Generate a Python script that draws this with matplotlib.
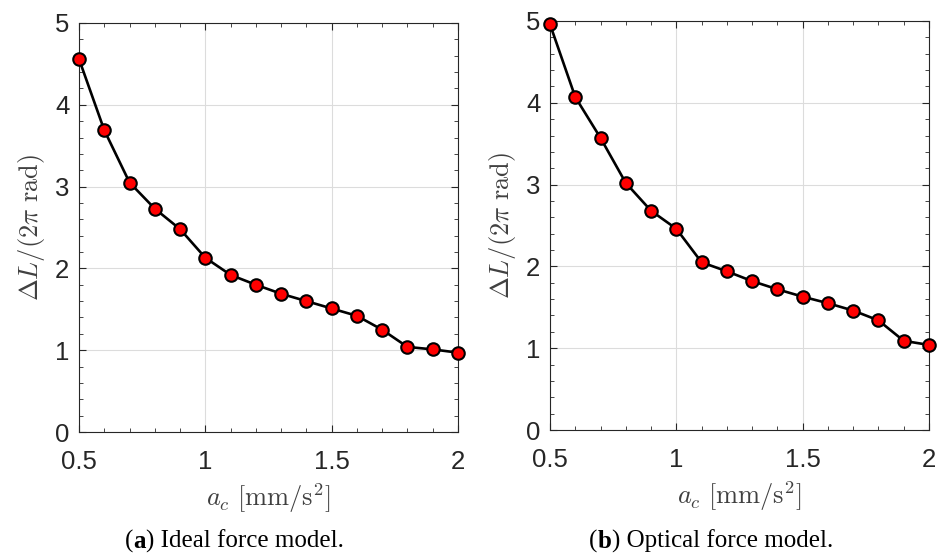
import numpy as np
import matplotlib.pyplot as plt
from matplotlib.ticker import MultipleLocator

plt.rcParams['mathtext.fontset'] = 'cm'

accel = [0.5, 0.6, 0.7, 0.8, 0.9, 1.0, 1.1, 1.2, 1.3, 1.4, 1.5, 1.6, 1.7, 1.8, 1.9, 2.0]
ideal = [4.56, 3.69, 3.05, 2.73, 2.48, 2.13, 1.92, 1.80, 1.69, 1.60, 1.51, 1.42, 1.25, 1.04, 1.01, 0.97]
optical = [4.96, 4.07, 3.57, 3.02, 2.68, 2.46, 2.05, 1.94, 1.82, 1.72, 1.63, 1.55, 1.46, 1.34, 1.09, 1.04]
captions = [("a", "Ideal force model."), ("b", "Optical force model.")]

fig = plt.figure(figsize=(9.38, 5.59), dpi=100)
W, H = 938, 559
boxes = [(79, 23, 458, 432), (550, 21, 929, 430)]
cap_x = [234, 711]

for (x0, y0, x1, y1), data in zip(boxes, [ideal, optical]):
    ax = fig.add_axes([x0 / W, 1 - y1 / H, (x1 - x0) / W, (y1 - y0) / H])
    ax.plot(accel, data, color='k', lw=1.9, marker='o', ms=9,
            mfc='#ff0000', mec='k', mew=1.5, clip_on=False, zorder=3)
    ax.set_xlim(0.5, 2)
    ax.set_ylim(0, 5)
    ax.xaxis.set_minor_locator(MultipleLocator(0.1))
    ax.yaxis.set_major_locator(MultipleLocator(1))
    ax.yaxis.set_minor_locator(MultipleLocator(0.2))
    ax.set_xticks([0.5, 1, 1.5, 2])
    ax.set_xticklabels(['0.5', '1', '1.5', '2'])
    ax.tick_params(which='both', direction='in', top=True, right=True,
                   colors='#262626', labelsize=18.5, labelfontfamily='Liberation Sans')
    ax.tick_params(which='major', length=5, width=0.8)
    ax.tick_params(which='minor', length=3, width=0.6)
    ax.tick_params(axis='x', which='major', pad=13)
    ax.tick_params(axis='y', which='major', pad=7)
    for s in ax.spines.values():
        s.set_color('#262626')
        s.set_linewidth(0.8)
    ax.grid(True, which='major', color='#dcdcdc', lw=0.8)
    ax.set_axisbelow(True)
    ax.set_ylabel(r'$\Delta L/(2\pi\ \mathrm{rad})$', fontsize=19, color='#404040', labelpad=6)
    ax.set_xlabel(r'$a_c\ [\mathrm{mm/s^2}]$', fontsize=19, color='#404040', labelpad=5)

# captions: "(" + bold letter + ") text", laid out piece by piece
fig.canvas.draw()
renderer = fig.canvas.get_renderer()
for (letter, text), cx in zip(captions, cap_x):
    pieces = [("(", 'normal'), (letter, 'bold'), (") " + text, 'normal')]
    widths = []
    for s, w in pieces:
        t = fig.text(0, 0, s, fontsize=18, family='Liberation Serif', weight=w)
        widths.append(t.get_window_extent(renderer).width)
        t.remove()
    x = cx - sum(widths) / 2
    for (s, w), wd in zip(pieces, widths):
        fig.text(x / W, 1 - 541 / H, s, ha='left', va='center',
                 fontsize=18, family='Liberation Serif', weight=w)
        x += wd

fig.savefig('out.png', dpi=100, facecolor='white')
